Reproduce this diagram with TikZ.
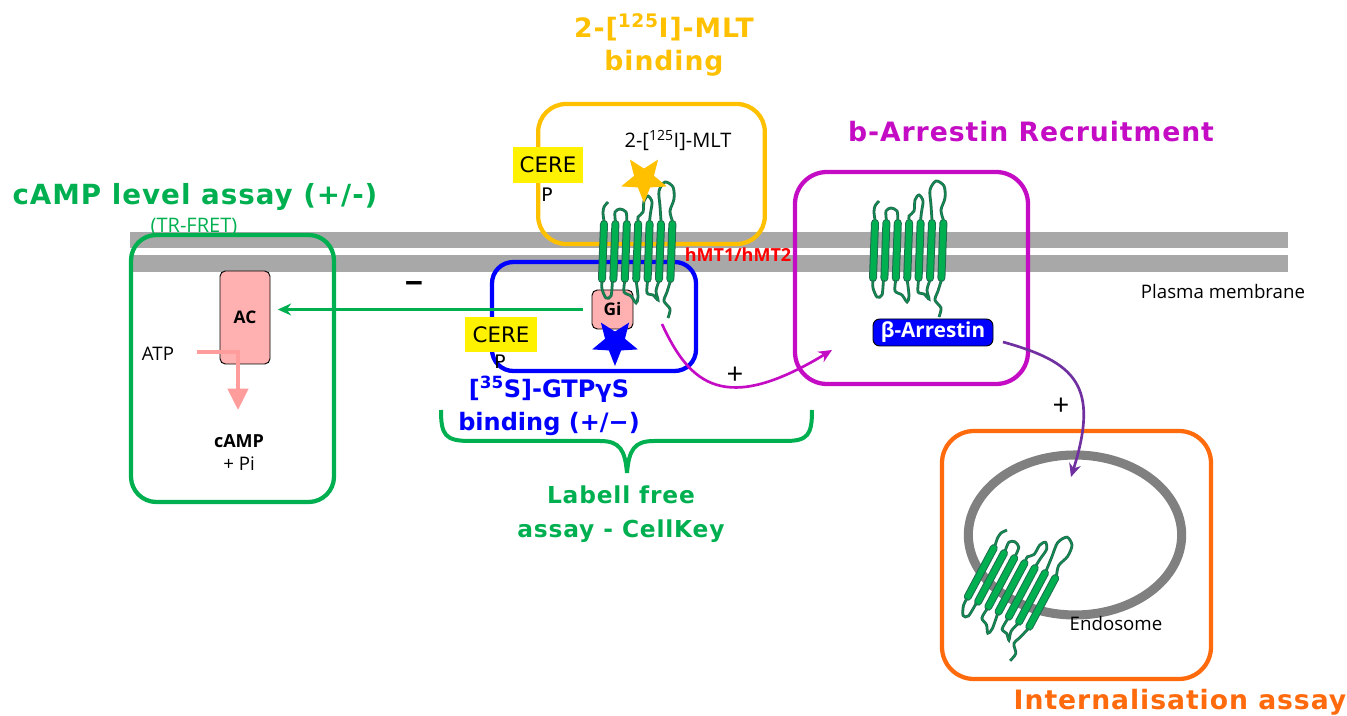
\documentclass[tikz,border=0pt]{standalone}
\usepackage{fontspec}
\usepackage{tikz}
\usetikzlibrary{arrows.meta,shapes.geometric}
\setmainfont{Open Sans}
\newfontfamily\headfont[LetterSpace=3.5]{DejaVu Sans}
\newfontfamily\tightfont{DejaVu Sans}

\definecolor{tmgreen}{HTML}{00B050}
\definecolor{tmdark}{HTML}{1F6B4F}
\definecolor{goldbox}{HTML}{FFC000}
\definecolor{magbox}{HTML}{C40CC4}
\definecolor{orangebox}{HTML}{FF6A0D}
\definecolor{pinkfill}{HTML}{FFB0B0}
\definecolor{pinkline}{HTML}{FF9C9C}
\definecolor{purpleline}{HTML}{7030A0}
\definecolor{barcolor}{HTML}{A8A8A8}
\definecolor{vesicle}{HTML}{808080}

\tikzset{
  assaybox/.style={draw, line width=3.2pt, inner sep=0pt},
  headlabel/.style={font=\headfont\bfseries\fontsize{20}{25}\selectfont, align=center},
  plainlabel/.style={font=\fontsize{14}{16}\selectfont, inner sep=0pt},
  enzyme/.style={draw=black, line width=0.7pt, fill=pinkfill, rounded corners=4pt, inner sep=0pt,
    font=\bfseries\fontsize{13}{15}\selectfont},
  cerebox/.style={fill=yellow, inner sep=0pt, font=\tightfont\fontsize{16}{18}\selectfont},
  ligand/.style={star, star points=5, star point ratio=2.3, shape border rotate=180, inner sep=0pt,
    minimum size=36pt},
  helixedge/.style={line width=6pt, line cap=round, draw=tmdark},
  helixcore/.style={line width=4.5pt, line cap=round, draw=tmgreen},
  loopline/.style={draw=tmdark, line width=0.7pt, double=tmgreen!60!tmdark, double distance=0.7pt},
  pics/receptor/.style={code={
    \foreach \n in {0,...,6} {
      \draw[helixedge] ({\n*11.4+1},-27) -- ({\n*11.4-1},28);
      \draw[helixcore] ({\n*11.4+1},-27) -- ({\n*11.4-1},28);
    }
    % extracellular loops
    \draw[loopline] plot[smooth] coordinates {(1,-30) (0,-38) (1,-44) (5,-49)};
    \draw[loopline] plot[smooth] coordinates {(12.4,-30) (12,-39) (17,-42) (23,-39) (23.8,-30)};
    \draw[loopline] plot[smooth] coordinates {(35.2,-30) (35,-34) (40,-39) (41,-50) (45,-55) (49,-49) (47.5,-38) (46.6,-30)};
    \draw[loopline] plot[smooth] coordinates {(58,-30) (57,-45) (56,-60) (62,-69) (70,-64) (71,-52) (67,-40) (69.4,-30)};
    % intracellular loops
    \draw[loopline] plot[smooth] coordinates {(-1,30) (-1,38) (3,47) (8,45) (9.4,30)};
    \draw[loopline] plot[smooth] coordinates {(21.8,30) (21,41) (28,45) (33,52) (35,46) (33.2,30)};
    \draw[loopline] plot[smooth] coordinates {(44.6,30) (44,42) (50,44) (55,49) (53,40) (56,30)};
    \draw[loopline] plot[smooth] coordinates {(67.4,30) (64,41) (61,50) (67,58) (65,67)};
  }}
}

\begin{document}
\begin{tikzpicture}[x=0.75pt, y=-0.75pt]
  \useasboundingbox (0,0) rectangle (1347,716);

  % membrane
  \fill[barcolor] (130,232) rectangle (1288,248);
  \fill[barcolor] (130,255) rectangle (1288,272);

  % assay boxes
  \node[assaybox, draw=goldbox, rounded corners=21pt, minimum width=170pt, minimum height=105pt] (bindbox) at (651.5,174) {};
  \node[assaybox, draw=blue, rounded corners=16pt, minimum width=153pt, minimum height=81.75pt] (gtpbox) at (594,316.5) {};
  \node[assaybox, draw=tmgreen, rounded corners=19pt, minimum width=152.25pt, minimum height=200.25pt] (campbox) at (232.5,368.5) {};
  \node[assaybox, draw=magbox, rounded corners=24pt, minimum width=174.75pt, minimum height=159pt] (arrbox) at (911.5,278) {};
  \node[assaybox, draw=orangebox, rounded corners=24pt, minimum width=201.75pt, minimum height=186pt] (intbox) at (1076.5,555) {};

  % endosome
  \node[ellipse, draw=vesicle, line width=6.8pt, minimum width=160pt, minimum height=120pt, inner sep=0pt] (endo) at (1075,535) {};

  % enzymes
  \node[enzyme, minimum width=37.5pt, minimum height=69.75pt] (ac) at (245,317.5) {AC};
  \node[enzyme, minimum width=30.75pt, minimum height=29.25pt] (gi) at (612.5,309.5) {Gi};
  \node[enzyme, fill=blue, text=white, rounded corners=5pt, minimum width=90pt, minimum height=20.25pt,
    font=\bfseries\fontsize{15.5}{18}\selectfont] (arrestin) at (933,332.5) {β-Arrestin};

  % receptors
  \pic at (603,251) {receptor};
  \pic at (874,250) {receptor};
  \pic[rotate=-26] at (981,572) {receptor};

  % ligands
  \node[ligand, fill=goldbox] (mlt) at (644,179) {};
  \node[ligand, fill=blue] (gtp) at (615,342) {};

  % CERE tags
  \node[cerebox, minimum width=52.5pt, minimum height=27pt] (cere1) at (548,165) {CERE};
  \node[cerebox, minimum width=54pt, minimum height=26pt] (cere2) at (501,334.5) {CERE};
  \node[plainlabel, font=\tightfont\fontsize{14}{16}\selectfont] (p1) at (547,195) {P};
  \node[plainlabel, font=\tightfont\fontsize{14}{16}\selectfont] (p2) at (500,362) {P};

  % connectors
  \draw[tmgreen, line width=2.2pt, -{Stealth[length=10pt,width=9pt]}, shorten <=6.75pt, shorten >=5.5pt]
    (gi.west) -- (gi.west -| ac.east);
  \coordinate (atpin) at (197,352);
  \coordinate (atpout) at (238,410);
  \draw[pinkline, line width=3pt, -{Triangle[length=16pt,width=15pt]}] (atpin) -| (atpout);
  \coordinate (recout) at (662,324);
  \coordinate (recin) at (832,350);
  \draw[magbox, line width=2pt, -{Stealth[length=10pt,width=9pt]}] (recout) .. controls (690,385) and (725,415) .. (recin);
  \coordinate (arrout) at (1003,342);
  \coordinate (endoin) at (1071,477);
  \draw[purpleline, line width=2pt, -{Stealth[length=10pt,width=9pt]}] (arrout) .. controls (1075,362) and (1100,385) .. (endoin);
  \draw[tmgreen, line width=3pt] (441,410) .. controls (441,435) and (445,441) .. (470,441)
    -- (600,441) .. controls (620,441) and (625,450) .. (627,473)
    .. controls (629,450) and (634,441) .. (654,441) -- (785,441)
    .. controls (808,441) and (812,435) .. (812,410);

  % labels
  \node[headlabel, text=goldbox] (bindlabel) at (664,45) {2-[\textsuperscript{125}I]-MLT\\binding};
  \node[headlabel, text=tmgreen, font=\headfont\bfseries\fontsize{20.8}{25}\selectfont] (camplabel) at (195,197) {cAMP level assay (+/-)};
  \node[headlabel, text=magbox] (arrlabel) at (1031,132) {b-Arrestin Recruitment};
  \node[headlabel, text=orangebox] (intlabel) at (1180,702) {Internalisation assay};
  \node[headlabel, text=blue, font=\tightfont\bfseries\fontsize{18}{25}\selectfont] (gtplabel) at (549,406) {[\textsuperscript{35}S]-GTPγS\\binding (+/−)};
  \node[headlabel, text=tmgreen, font=\headfont\bfseries\fontsize{17.5}{25}\selectfont] (freelabel) at (621,514) {Labell free\\assay - CellKey};
  \node[plainlabel, text=tmgreen, font=\fontsize{15}{17}\selectfont] (trfret) at (194,227) {(TR-FRET)};
  \node[plainlabel, font=\fontsize{15}{17}\selectfont] (mltlabel) at (678,141) {2-[\textsuperscript{125}I]-MLT};
  \node[plainlabel, text=red, font=\bfseries\fontsize{13.5}{15}\selectfont] (hmt) at (738,255) {hMT1/hMT2};
  \node[plainlabel] (atp) at (158,354) {ATP};
  \node[plainlabel, font=\bfseries\fontsize{13.5}{16}\selectfont] (camp) at (239,441) {cAMP};
  \node[plainlabel] (pi) at (239,464) {+ Pi};
  \node[plainlabel] (plasma) at (1223,292) {Plasma membrane};
  \node[plainlabel] (endolabel) at (1116,623) {Endosome};
  \node[plainlabel, font=\bfseries\fontsize{24}{26}\selectfont] (minus) at (414,288) {−};
  \node[plainlabel, font=\fontsize{22}{24}\selectfont] (plus1) at (735,376) {+};
  \node[plainlabel, font=\fontsize{22}{24}\selectfont] (plus2) at (1061,407) {+};
\end{tikzpicture}
\end{document}
